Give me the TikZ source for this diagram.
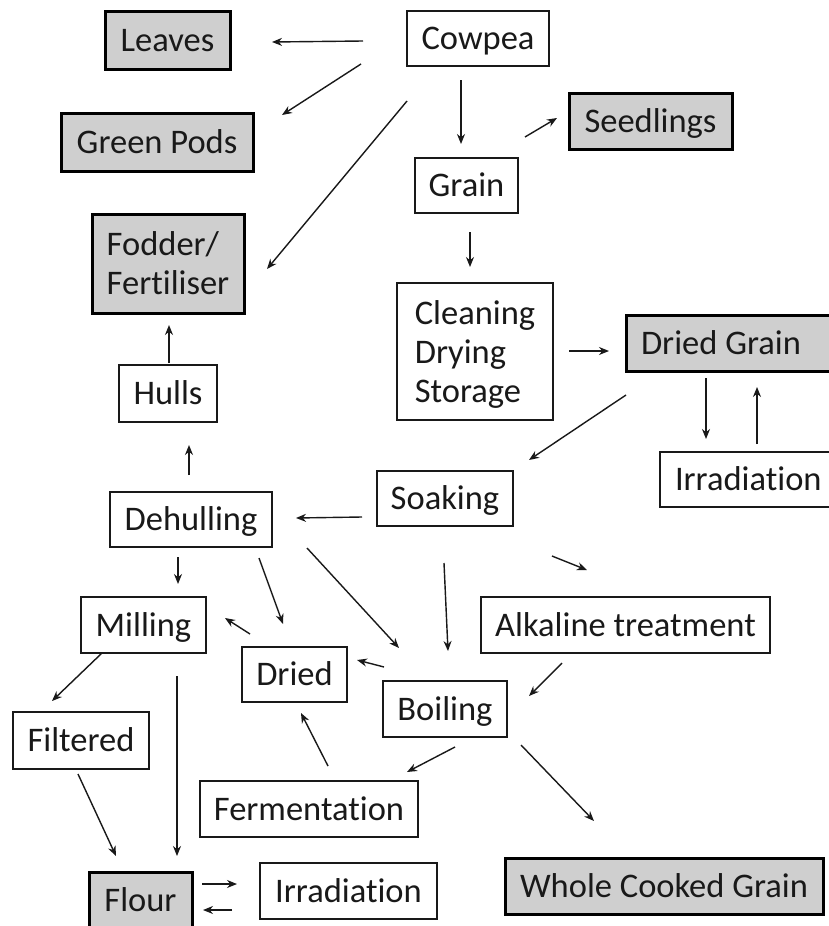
\documentclass[tikz,border=0pt]{standalone}
\usepackage{fontspec}
\newfontfamily\bodyfont{Carlito}[Ligatures=NoCommon]
\usetikzlibrary{calc,arrows.meta}
\definecolor{boxgray}{RGB}{207,207,207}
\definecolor{ink}{RGB}{25,25,25}
\tikzset{
  boxbase/.style={rectangle, outer sep=0pt, inner sep=0pt, text=ink,
    font={\bodyfont\fontsize{34.5}{39}\selectfont}},
  oneline/.style={text height=24pt, text depth=2pt},
  thinframe/.style={draw=ink, line width=1.3pt, fill=white},
  thickframe/.style={draw=black, line width=3pt, fill=boxgray},
  wbox/.style={boxbase, oneline, thinframe},
  gbox/.style={boxbase, oneline, thickframe},
  wboxm/.style={boxbase, thinframe, align=flush left, text depth=0pt},
  gboxm/.style={boxbase, thickframe, align=flush left, text depth=0pt},
  arr/.style={-{Stealth[length=10pt,width=8pt]}, line width=1.4pt, draw=ink},
}
\begin{document}
\begin{tikzpicture}[x=1pt,y=-1pt]
\useasboundingbox (0,0) rectangle (829,926);
\clip (0,0) rectangle (829,926);
\fill[white] (0,0) rectangle (829,926);

% nodes
\node[gbox, minimum width=125pt, minimum height=58pt] (leaves) at (167.5,40) {Leaves};
\node[gbox, minimum width=192pt, minimum height=58pt] (pods) at (157,142) {Green Pods};
\node[gboxm, minimum width=152pt, minimum height=99pt] (fodder) at (168,263.5) {Fodder/\\Fertiliser};
\node[wbox, minimum width=142pt, minimum height=55pt] (cowpea) at (478,38.5) {Cowpea};
\node[gbox, minimum width=163pt, minimum height=56pt] (seed) at (650.5,121) {Seedlings};
\node[wbox, minimum width=103pt, minimum height=55pt] (grain) at (466.5,185.5) {Grain};
\node[wboxm, minimum width=156pt, minimum height=137pt] (clean) at (475,351.5) {Cleaning\\Drying\\Storage};
\node[gbox, anchor=west, text width=190pt, align=flush left, inner xsep=15pt, minimum height=56pt] (dg) at (626,343) {Dried Grain};
\node[wbox, anchor=west, text width=190pt, align=flush left, inner xsep=15pt, minimum height=55pt] (irrR) at (660,479.5) {Irradiation};
\node[wbox, minimum width=98pt, minimum height=57pt] (hulls) at (168,393.5) {Hulls};
\node[wbox, minimum width=162pt, minimum height=55pt] (dehull) at (191,519.5) {Dehulling};
\node[wbox, minimum width=136pt, minimum height=55pt] (soak) at (445,498.5) {Soaking};
\node[wbox, minimum width=125pt, minimum height=56pt] (mill) at (143.5,625) {Milling};
\node[wbox, minimum width=289pt, minimum height=56pt] (alk) at (625.5,625) {Alkaline treatment};
\node[wbox, minimum width=105pt, minimum height=55pt] (dried) at (294.5,674.5) {Dried};
\node[wbox, minimum width=124pt, minimum height=56pt] (boil) at (445,709) {Boiling};
\node[wbox, minimum width=136pt, minimum height=57pt] (filt) at (81,740.5) {Filtered};
\node[wbox, minimum width=218pt, minimum height=56pt] (ferm) at (309,809) {Fermentation};
\node[gbox, minimum width=103pt, minimum height=56pt] (flour) at (140.5,900) {Flour};
\node[wbox, minimum width=177pt, minimum height=56pt] (irrB) at (348.5,891) {Irradiation};
\node[gbox, minimum width=318pt, minimum height=56pt] (whole) at (664,886) {Whole Cooked Grain};

% connectors
\draw[arr] ($(cowpea)+(-115,2.5)$) -- ($(leaves)+(104.5,2)$);
\draw[arr] ($(cowpea)+(-117,25.5)$) -- ($(pods)+(125,-27)$);
\draw[arr] ($(cowpea)+(-71,62.5)$) -- ($(fodder)+(99,5.5)$);
\draw[arr] ($(cowpea)+(-17,41.5)$) -- ($(grain)+(-5.5,-41.5)$);
\draw[arr] ($(grain)+(58.5,-48.5)$) -- ($(seed)+(-93.5,-3)$);
\draw[arr] ($(grain)+(3.5,46.5)$) -- ($(clean)+(-5,-84.5)$);
\draw[arr] ($(clean)+(94,-0.5)$) -- ($(dg.west)+(-17,8)$);
\draw[arr] ($(dg.west)+(80,35)$) -- ($(irrR.west)+(46,-40.5)$);
\draw[arr] ($(irrR.west)+(97,-35.5)$) -- ($(dg.west)+(131,44)$);
\draw[arr] ($(dg.west)+(0,52)$) -- ($(soak)+(84,-38.5)$);
\draw[arr] ($(soak)+(-83,18.5)$) -- ($(dehull)+(105,-1.5)$);
\draw[arr] ($(dehull)+(-2,-44.5)$) -- ($(hulls)+(21,51.5)$);
\draw[arr] ($(hulls)+(1,-30.5)$) -- ($(fodder)+(1,61.5)$);
\draw[arr] ($(dehull)+(-13,37.5)$) -- ($(mill)+(34.5,-41)$);
\draw[arr] ($(dehull)+(68,38.5)$) -- ($(dried)+(-11.5,-50.5)$);
\draw[arr] ($(dehull)+(116,28.5)$) -- ($(boil)+(-46,-61)$);
\draw[arr] ($(dried)+(-44.5,-40.5)$) -- ($(mill)+(81.5,-7)$);
\draw[arr] ($(soak)+(-1,64.5)$) -- ($(boil)+(3,-58)$);
\draw[arr] ($(soak)+(107,57.5)$) -- ($(alk)+(-38.5,-55)$);
\draw[arr] ($(alk)+(-63.5,38)$) -- ($(boil)+(84,-13)$);
\draw[arr] ($(boil)+(-61,-42)$) -- ($(dried)+(62.5,-14.5)$);
\draw[arr] ($(boil)+(10,38)$) -- ($(ferm)+(98,-37)$);
\draw[arr] ($(boil)+(76,36)$) -- ($(whole)+(-70,-65)$);
\draw[arr] ($(ferm)+(19,-43)$) -- ($(dried)+(6.5,38.5)$);
\draw[arr] ($(mill)+(-41.5,28)$) -- ($(filt)+(-29,-39.5)$);
\draw[arr] ($(mill)+(33.5,51)$) -- ($(flour)+(36.5,-44)$);
\draw[arr] ($(filt)+(-3,33.5)$) -- ($(flour)+(-24.5,-44)$);
\draw[arr] ($(flour)+(61.5,-16)$) -- ($(irrB)+(-111.5,-7)$);
\draw[arr] ($(irrB)+(-116.5,19)$) -- ($(flour)+(62.5,10)$);
\end{tikzpicture}
\end{document}
